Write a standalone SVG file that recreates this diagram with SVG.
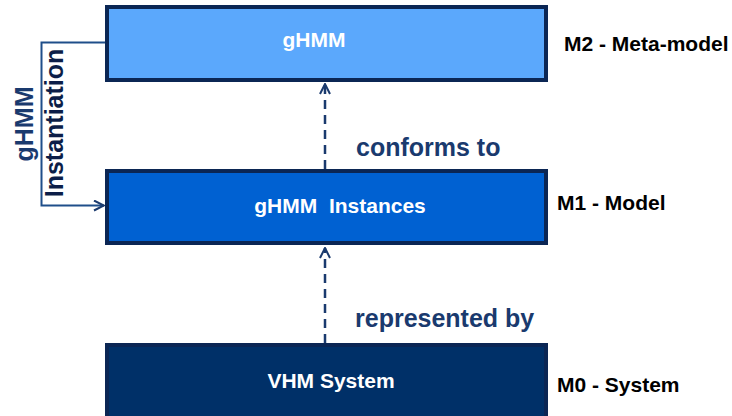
<svg xmlns="http://www.w3.org/2000/svg" width="732" height="416" viewBox="0 0 732 416">
<defs>
<style>
.box{stroke:#0b2654;stroke-width:4}
.in{font-family:"Liberation Sans",Arial,sans-serif;font-weight:bold;font-size:21px;fill:#ffffff;text-anchor:middle}
.lvl{font-family:"Liberation Sans",Arial,sans-serif;font-weight:bold;font-size:21px;fill:#000000}
.rel{font-family:"Liberation Sans",Arial,sans-serif;font-weight:bold;font-size:25px;fill:#1a3a6e}
.side{font-family:"Liberation Sans",Arial,sans-serif;font-weight:bold;font-size:25px;text-anchor:middle}
.dash{fill:none;stroke:#1a3a6e;stroke-width:2.5;stroke-dasharray:9,6}
.solid{fill:none;stroke:#1f4e8a;stroke-width:2}
</style>
<marker id="open" viewBox="0 0 12 12" refX="11" refY="6" markerWidth="12" markerHeight="12" markerUnits="userSpaceOnUse" orient="auto">
<path d="M1,1 L11,6 L1,11" fill="none" stroke="#1a3a6e" stroke-width="2"/>
</marker>
</defs>
<rect width="732" height="416" fill="#ffffff"/>
<g id="connectors">
<path class="dash" d="M325,169 L325,84" marker-end="url(#open)"/>
<path class="dash" d="M325,343 L325,248" marker-end="url(#open)"/>
<path class="solid" d="M105,42.5 L41.5,42.5 L41.5,205.5 L104,205.5" marker-end="url(#open)"/>
<text class="rel" x="356" y="156">conforms to</text>
<text class="rel" x="355" y="327">represented by</text>
<text class="side" fill="#1a3a6e" transform="translate(33,124) rotate(-90)">gHMM</text>
<text class="side" fill="#0c1e48" transform="translate(63,123) rotate(-90)">Instantiation</text>
</g>
<g id="node-m2">
<rect class="box" x="107" y="7" width="439" height="73" fill="#5ba8fc"/>
<text class="in" x="314" y="47">gHMM</text>
<text class="lvl" x="564" y="51">M2 - Meta-model</text>
</g>
<g id="node-m1">
<rect class="box" x="107" y="171" width="439" height="72" fill="#0061d2"/>
<text class="in" x="340" y="213" xml:space="preserve">gHMM  Instances</text>
<text class="lvl" x="557" y="210">M1 - Model</text>
</g>
<g id="node-m0">
<rect class="box" x="107" y="345" width="439" height="80" fill="#003068" stroke="#022456"/>
<text class="in" x="331" y="388">VHM System</text>
<text class="lvl" x="557" y="392">M0 - System</text>
</g>
</svg>
